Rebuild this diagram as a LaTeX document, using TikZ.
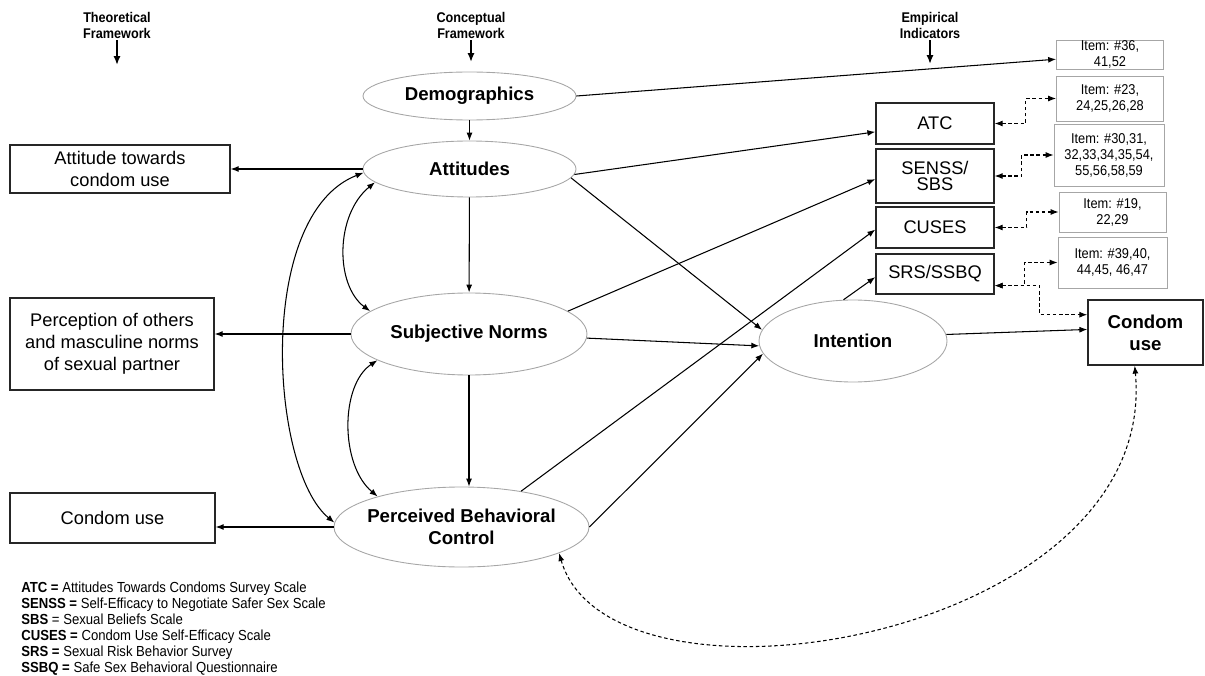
\documentclass[tikz,border=0pt]{standalone}
\usepackage{fontspec}
\setmainfont{Liberation Sans}
\newfontfamily\narrowfont[FakeStretch=0.9]{Liberation Sans}
\usetikzlibrary{arrows.meta,shapes.geometric}

\begin{document}
\begin{tikzpicture}[
    >={Latex[length=4.5pt,width=3.4pt]},
    construct/.style={ellipse, draw=gray!70, line width=0.5pt, inner sep=0pt, inner xsep=-4pt, align=center, font=\fontsize{10.6}{12.5}\selectfont\bfseries},
    theorybox/.style={rectangle, draw=black!85, line width=0.8pt, inner sep=0pt, align=center, font=\fontsize{10.4}{12.5}\selectfont},
    itembox/.style={rectangle, draw=gray!70, line width=0.5pt, inner sep=0pt, align=center, font=\narrowfont\fontsize{8.1}{9.1}\selectfont},
    header/.style={inner sep=1pt, align=center, font=\narrowfont\bfseries\fontsize{8}{9.1}\selectfont},
    keytext/.style={inner sep=0pt, align=left, font=\narrowfont\fontsize{8.3}{9}\selectfont},
    link/.style={->, line width=0.6pt},
    mutual/.style={<->, line width=0.6pt},
    dashlink/.style={<->, line width=0.6pt, dash pattern=on 2pt off 1.5pt},
    hdrarrow/.style={->, line width=1.3pt, >={Latex[length=5pt,width=4pt]}}
]
    \useasboundingbox (0,0) rectangle (24.1,13.5);

    % Headers
    \node[header] (hdrT) at (2.34,13.0) {Theoretical\\Framework};
    \node[header] (hdrC) at (9.42,13.0) {Conceptual\\Framework};
    \node[header] (hdrE) at (18.60,13.0) {Empirical\\Indicators};
    \coordinate (tipT) at (2.34,12.20);
    \coordinate (tipC) at (9.42,12.26);
    \coordinate (tipE) at (18.60,12.22);
    \draw[hdrarrow] (hdrT.south) -- (tipT);
    \draw[hdrarrow] (hdrC.south) -- (tipC);
    \draw[hdrarrow] (hdrE.south) -- (tipE);

    % Constructs
    \node[construct, minimum width=4.26cm, minimum height=0.96cm] (demo) at (9.39,11.58) {Demographics};
    \node[construct, minimum width=4.26cm, minimum height=1.12cm] (att) at (9.39,10.12) {Attitudes};
    \node[construct, minimum width=4.72cm, minimum height=1.64cm] (sn) at (9.38,6.82) {Subjective Norms};
    \node[construct, minimum width=5.10cm, minimum height=1.60cm] (pbc) at (9.23,2.96) {Perceived Behavioral\\Control};
    \node[construct, minimum width=3.76cm, minimum height=1.64cm] (int) at (17.06,6.68) {Intention};

    % Theoretical framework
    \node[theorybox, minimum width=4.40cm, minimum height=0.96cm] (bAtt) at (2.40,10.12) {Attitude towards\\condom use};
    \node[theorybox, minimum width=4.08cm, minimum height=1.84cm] (bPer) at (2.24,6.62) {Perception of others\\and masculine norms\\of sexual partner};
    \node[theorybox, minimum width=4.10cm, minimum height=1.00cm] (bCU) at (2.25,3.14) {Condom use};

    % Empirical indicators
    \node[theorybox, minimum width=2.36cm, minimum height=0.82cm] (atc) at (18.70,11.03) {ATC};
    \node[theorybox, minimum width=2.36cm, minimum height=1.08cm, font=\fontsize{10.4}{9.2}\selectfont] (senss) at (18.70,9.98) {SENSS/\\SBS};
    \node[theorybox, minimum width=2.36cm, minimum height=0.82cm] (cuses) at (18.70,8.95) {CUSES};
    \node[theorybox, minimum width=2.36cm, minimum height=0.80cm] (srs) at (18.70,8.02) {SRS/SSBQ};
    \node[theorybox, minimum width=2.30cm, minimum height=1.30cm, font=\fontsize{10.6}{12.5}\selectfont\bfseries] (cond) at (22.91,6.85) {Condom\\use};

    % Items
    \node[itembox, minimum width=2.14cm, minimum height=0.58cm] (i36) at (22.20,12.41) {Item: \#36,\\41,52};
    \node[itembox, minimum width=2.14cm, minimum height=0.90cm] (i23) at (22.20,11.53) {Item: \#23,\\24,25,26,28};
    \node[itembox, minimum width=2.20cm, minimum height=1.24cm] (i30) at (22.18,10.40) {Item: \#30,31,\\32,33,34,35,54,\\55,56,58,59};
    \node[itembox, minimum width=2.14cm, minimum height=0.80cm] (i19) at (22.25,9.26) {Item: \#19,\\22,29};
    \node[itembox, minimum width=2.18cm, minimum height=1.02cm] (i39) at (22.25,8.25) {Item: \#39,40,\\44,45, 46,47};

    % Paths
    \draw[link] (demo) -- (att);
    \draw[link] (att) -- (sn);
    \draw[link] (sn.south) -- (sn.south |- pbc.north);
    \draw[link] (att) -- (bAtt);
    \draw[link] (sn.west) -- (sn.west -| bPer.east);
    \draw[link] (pbc.west) -- (pbc.west -| bCU.east);
    \draw[link] (demo.east) -- (i36.185);
    \draw[link] (att.-3) -- (atc.188);
    \draw[link] (att.-5) -- (int.173);
    \draw[link] (sn.13) -- (senss.183);
    \draw[link] (sn.-2) -- (int.183);
    \draw[link] (pbc.31) -- (cuses.182);
    \draw[link] (pbc.east) -- (int.188);
    \draw[link] (int.103) -- (srs.183);
    \draw[link] (int.4) -- (cond.177);

    % Correlations
    \draw[mutual] (att.182) .. controls (5.10,9.20) and (5.40,4.10) .. (pbc.178);
    \draw[mutual] (att.188) .. controls (6.70,9.20) and (6.70,7.80) .. (sn.167);
    \draw[mutual] (sn.196) .. controls (6.80,5.80) and (6.80,4.20) .. (pbc.160);

    % Measures
    \draw[dashlink] (atc.east) -- ++(0.62,0) |- (i23.west);
    \draw[dashlink] (senss.east) -- ++(0.54,0) |- (i30.west);
    \draw[dashlink] (cuses.east) -- ++(0.64,0) |- (i19.west);
    \draw[dashlink] (srs.-11) -- ++(0.60,0) |- (i39.west);
    \draw[dashlink] (srs.-11) -- ++(0.90,0) |- (cond.163);
    \draw[dashlink] (pbc.-15) .. controls (12.20,-1.10) and (23.20,0.70) .. (cond.-108);

    % Key
    \node[keytext, anchor=north west] (key) at (0.42,1.86) {\textbf{ATC =} Attitudes Towards Condoms Survey Scale\\
        \textbf{SENSS =} Self-Efficacy to Negotiate Safer Sex Scale\\
        \textbf{SBS} = Sexual Beliefs Scale\\
        \textbf{CUSES =} Condom Use Self-Efficacy Scale\\
        \textbf{SRS =} Sexual Risk Behavior Survey\\
        \textbf{SSBQ =} Safe Sex Behavioral Questionnaire};
\end{tikzpicture}
\end{document}
